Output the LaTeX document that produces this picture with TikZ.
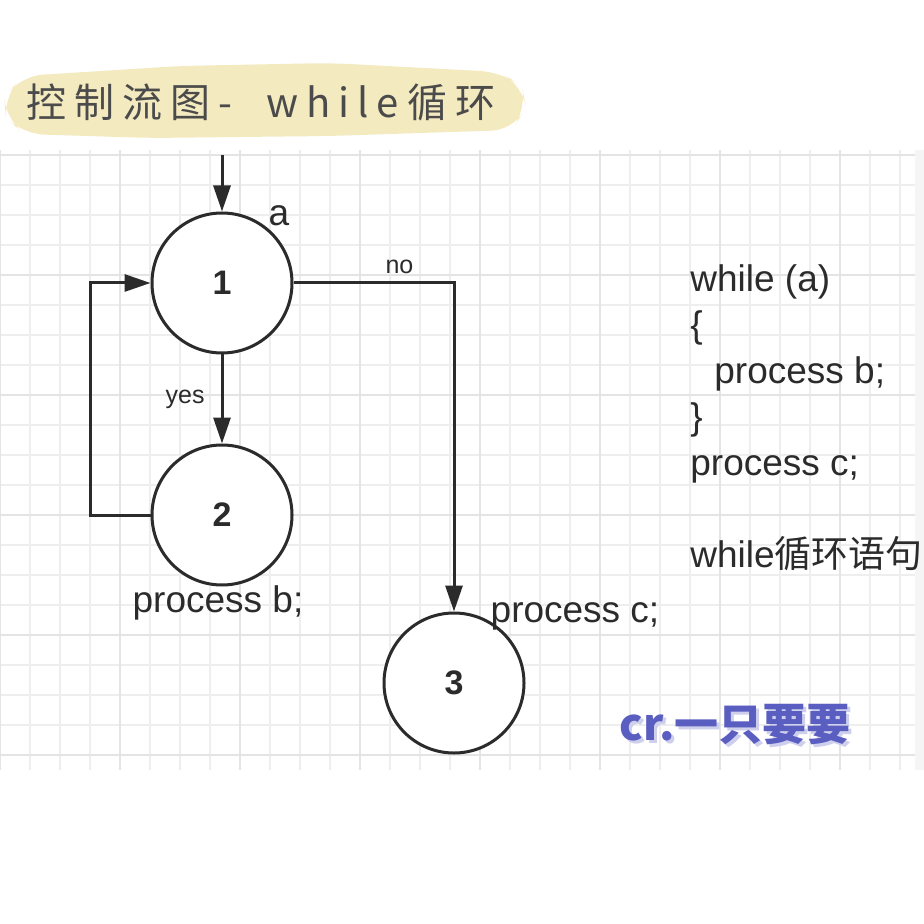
\documentclass[tikz,border=0pt]{standalone}
\usepackage{fontspec}
\setmainfont{Liberation Sans}
\newfontfamily\cjk{Noto Sans CJK SC}
\newfontfamily\titlefont{Noto Sans CJK SC}[LetterSpace=20]
\usetikzlibrary{arrows.meta}

\definecolor{ink}{HTML}{2B2B2B}
\definecolor{gridline}{HTML}{EEEEEE}
\definecolor{gridmajor}{HTML}{E4E4E4}
\definecolor{marker}{HTML}{F4EAC0}
\definecolor{wmblue}{HTML}{5A5EC0}

\begin{document}
\begin{tikzpicture}[x=0.5pt,y=-0.5pt]

\tikzset{vertex/.style = {shape=circle,draw=ink,line width=1.5pt,fill=white,minimum size=70pt,inner sep=0pt,text=ink,font=\fontsize{17}{20}\selectfont\bfseries}}
\tikzset{flow/.style = {-{Triangle[length=13pt,width=8.5pt]},draw=ink,line width=1.5pt}}
\tikzset{txt/.style = {text=ink,font=\fontsize{18.5}{23}\selectfont,inner sep=0pt}}
\tikzset{small/.style = {text=ink,font=\fontsize{12.5}{15}\selectfont,inner sep=0pt}}

\useasboundingbox (0,0) rectangle (924,924);
\fill[white] (0,0) rectangle (924,924);

%grid
\fill[black!4] (915,150) rectangle (924,770);
\foreach \i in {0,...,30} {
  \draw[gridline, line width=1pt] (30*\i,150) -- (30*\i,770);
}
\foreach \j in {0,...,20} {
  \draw[gridline, line width=1pt] (0,155+30*\j) -- (915,155+30*\j);
}
\foreach \i in {0,4,...,28} {
  \draw[gridmajor, line width=1pt] (30*\i,150) -- (30*\i,770);
}
\foreach \j in {0,4,...,20} {
  \draw[gridmajor, line width=1pt] (0,155+30*\j) -- (915,155+30*\j);
}

%title
\fill[marker, rounded corners=10pt] (4,98) -- (22,76) -- (180,66) -- (330,63) -- (500,72) -- (522,86)
  -- (526,108) -- (512,130) -- (330,136) -- (150,138) -- (24,134) -- (6,118) -- cycle;
\node[anchor=west, inner sep=0pt, text=ink!85, font=\titlefont\fontsize{20}{24}\selectfont] (title) at (26,102) {控制流图- \ while循环};

%verticies
\node[vertex] (1) at (222,283) {1};
\node[vertex] (2) at (222,515) {2};
\node[vertex] (3) at (454,683) {3};
\coordinate (in) at (222,155);

%edges
\draw [flow] (in) -- (1);
\draw [flow] (1) -- (2) node [midway, small, left=8pt] (yes) {yes};
\draw [flow] (2.west) -- ++(-60,0) |- (1.west);
\draw [flow] (1.east) -| (3.north) node [pos=0.33, small, above=4pt] (no) {no};

%texts
\node[txt] (a) at (279,216) {a};
\node[txt] (procb) at (218,603) {process b;};
\node[txt] (procc) at (575,616) {process c;};
\node[txt, align=left, anchor=north west] (code) at (690,264)
  {while (a)\\\{\\\hspace{12pt}process b;\\\}\\process c;\\[23pt]while{\cjk 循环语句}};

%mark
\node[text=wmblue!30, font=\cjk\bfseries\fontsize{22}{26}\selectfont] (wmshadow) at (738,728) {cr.一只要要};
\node[text=wmblue, font=\cjk\bfseries\fontsize{22}{26}\selectfont] (wm) at (735,725) {cr.一只要要};

\end{tikzpicture}
\end{document}
